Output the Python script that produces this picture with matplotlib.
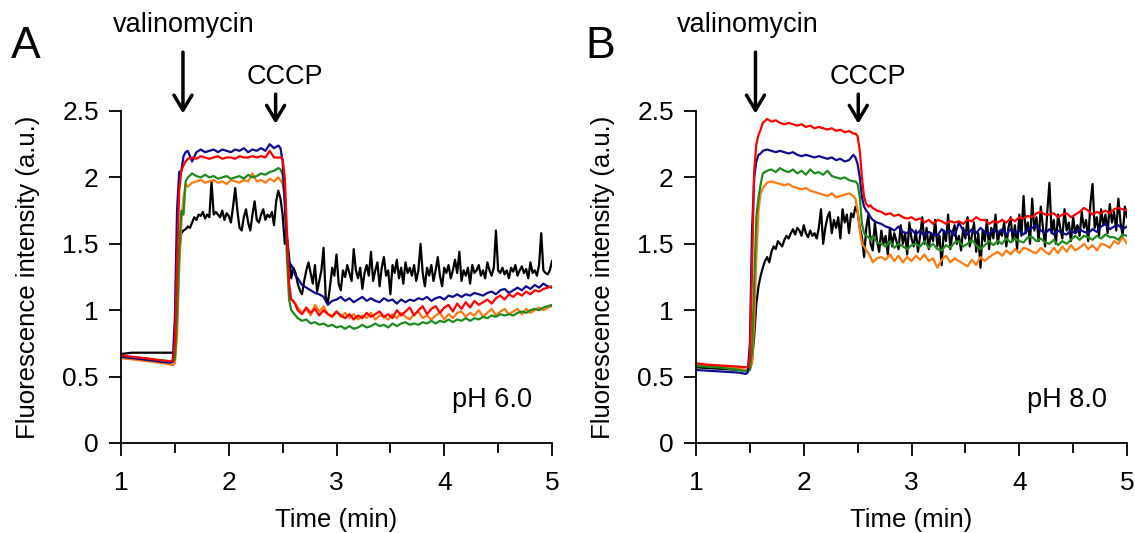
import numpy as np
import matplotlib
matplotlib.use("Agg")
import matplotlib.pyplot as plt

plt.rcParams['font.family'] = ['Liberation Sans', 'DejaVu Sans']

# ---------------- time grids (min) ----------------
t_col = np.round(np.concatenate([
    [1.00, 1.10, 1.20, 1.30, 1.40, 1.46],
    np.linspace(1.48, 1.62, 8),
    np.linspace(1.66, 2.42, 20),
    np.linspace(2.46, 2.62, 9),
    np.linspace(2.64, 5.00, 60)]), 2)
t_blk = np.round(np.concatenate([
    [1.00, 1.10, 1.20, 1.30, 1.40, 1.46],
    np.linspace(1.48, 5.00, 177)]), 2)

# ---------------- Panel A (pH 6.0) ----------------
a_blue = [0.65, 0.64, 0.63, 0.62, 0.61, 0.605,
          0.61, 0.95, 1.75, 2.04, 2.05, 2.16, 2.19, 2.20,
          2.12, 2.19, 2.21, 2.19, 2.20, 2.21, 2.19, 2.21, 2.20, 2.19,
          2.21, 2.20, 2.22, 2.19, 2.21, 2.20, 2.22, 2.20, 2.25, 2.22,
          2.24, 2.22, 2.12, 1.80, 1.50, 1.36, 1.34, 1.30, 1.26,
          1.24, 1.19, 1.17, 1.15, 1.13, 1.12, 1.10, 1.04, 1.07, 1.08,
          1.10, 1.07, 1.09, 1.06, 1.08, 1.10, 1.07, 1.09, 1.07, 1.06,
          1.09, 1.07, 1.08, 1.05, 1.08, 1.06, 1.08, 1.07, 1.09, 1.08,
          1.10, 1.07, 1.09, 1.10, 1.08, 1.11, 1.10, 1.12, 1.10, 1.12,
          1.11, 1.13, 1.12, 1.11, 1.13, 1.14, 1.12, 1.15, 1.16, 1.13,
          1.15, 1.17, 1.15, 1.18, 1.16, 1.19, 1.17, 1.20, 1.18, 1.17]
a_red = [0.66, 0.65, 0.64, 0.63, 0.62, 0.615,
         0.62, 0.75, 1.35, 1.90, 2.05, 2.09, 2.12, 2.14,
         2.15, 2.14, 2.16, 2.15, 2.14, 2.15, 2.16, 2.14, 2.15, 2.15,
         2.14, 2.16, 2.15, 2.15, 2.16, 2.15, 2.16, 2.15, 2.20, 2.15,
         2.15, 2.15, 2.14, 2.00, 1.60, 1.20, 1.08, 1.07, 1.04,
         1.00, 0.97, 1.02, 0.98, 1.01, 0.96, 1.00, 0.97, 0.95, 0.99,
         0.96, 0.94, 0.97, 0.93, 0.96, 0.94, 0.98, 0.95, 0.97, 0.99,
         0.95, 0.97, 0.94, 1.00, 0.96, 0.99, 1.02, 0.96, 1.00, 1.03,
         0.97, 1.01, 1.03, 0.98, 1.02, 1.04, 0.99, 1.05, 1.01, 1.06,
         1.02, 1.07, 1.04, 1.06, 1.08, 1.05, 1.09, 1.11, 1.08, 1.12,
         1.10, 1.13, 1.11, 1.14, 1.12, 1.15, 1.14, 1.16, 1.17, 1.18]
a_green = [0.65, 0.645, 0.64, 0.63, 0.62, 0.615,
           0.615, 0.63, 0.95, 1.45, 1.75, 1.72, 1.97, 2.00,
           2.03, 2.01, 2.00, 2.02, 2.00, 2.01, 1.99, 2.00, 2.01, 1.99,
           2.00, 2.01, 1.99, 2.02, 2.00, 2.01, 2.03, 2.02, 2.04, 2.05,
           2.07, 2.06, 2.02, 1.85, 1.40, 1.08, 1.00, 0.98, 0.96,
           0.94, 0.92, 0.93, 0.90, 0.91, 0.89, 0.90, 0.88, 0.89, 0.87,
           0.88, 0.86, 0.88, 0.86, 0.87, 0.89, 0.87, 0.88, 0.90, 0.88,
           0.89, 0.87, 0.90, 0.88, 0.90, 0.91, 0.89, 0.90, 0.89, 0.91,
           0.90, 0.92, 0.90, 0.92, 0.91, 0.93, 0.91, 0.93, 0.92, 0.94,
           0.92, 0.94, 0.93, 0.95, 0.94, 0.96, 0.95, 0.97, 0.96, 0.97,
           0.96, 0.98, 0.99, 0.98, 1.00, 1.01, 1.00, 1.02, 1.03, 1.04]
a_orange = [0.64, 0.63, 0.62, 0.61, 0.60, 0.59,
            0.585, 0.60, 0.80, 1.30, 1.65, 1.85, 1.95, 1.93,
            1.96, 1.97, 1.98, 1.96, 1.97, 1.98, 1.96, 1.97, 1.95, 1.98,
            1.97, 1.96, 1.98, 1.97, 2.03, 1.97, 1.98, 1.96, 1.99, 1.97,
            2.00, 1.98, 1.95, 1.85, 1.50, 1.15, 1.08, 1.06, 1.05,
            1.02, 0.98, 1.01, 0.96, 1.04, 0.99, 1.03, 0.97, 0.96, 0.99,
            0.95, 0.98, 0.94, 0.97, 0.93, 0.96, 0.94, 0.98, 0.93, 0.96,
            0.95, 0.93, 0.97, 0.94, 0.98, 0.95, 0.93, 0.97, 0.99, 0.94,
            0.96, 0.93, 0.96, 0.98, 0.93, 0.97, 0.94, 0.98, 0.99, 0.95,
            0.98, 0.96, 1.00, 0.95, 0.98, 1.01, 0.96, 0.99, 1.01, 0.97,
            0.99, 1.01, 0.97, 1.01, 0.98, 1.00, 1.02, 1.00, 1.02, 1.03]
a_black = [0.67, 0.68, 0.68, 0.68, 0.68, 0.68,
           0.68, 0.69, 0.95, 1.45, 1.58, 1.60, 1.61, 1.63, 1.62, 1.66,
           1.70, 1.68, 1.72, 1.71, 1.74, 1.69, 1.72, 1.70, 1.97, 1.72,
           1.74, 1.72, 1.70, 1.75, 1.68, 1.73, 1.71, 1.66, 1.78, 1.92,
           1.75, 1.62, 1.60, 1.70, 1.76, 1.66, 1.60, 1.72, 1.82, 1.68,
           1.66, 1.72, 1.76, 1.68, 1.72, 1.70, 1.74, 1.64, 1.82, 1.90,
           1.84, 1.72, 1.50, 1.56, 1.40, 1.24, 1.32, 1.28, 1.20, 1.15,
           1.12, 1.22, 1.30, 1.36, 1.28, 1.20, 1.34, 1.14, 1.22, 1.30,
           1.47, 1.10, 1.05, 1.18, 1.32, 1.26, 1.42, 1.20, 1.15, 1.30,
           1.25, 1.34, 1.28, 1.22, 1.46, 1.30, 1.24, 1.32, 1.16, 1.28,
           1.34, 1.26, 1.44, 1.22, 1.30, 1.36, 1.18, 1.32, 1.40, 1.26,
           1.30, 1.12, 1.34, 1.28, 1.38, 1.24, 1.32, 1.20, 1.36, 1.28,
           1.32, 1.26, 1.34, 1.22, 1.30, 1.50, 1.28, 1.18, 1.32, 1.26,
           1.34, 1.22, 1.30, 1.40, 1.26, 1.18, 1.32, 1.28, 1.34, 1.24,
           1.30, 1.38, 1.28, 1.44, 1.22, 1.30, 1.26, 1.32, 1.20, 1.34,
           1.28, 1.30, 1.34, 1.26, 1.30, 1.24, 1.36, 1.30, 1.26, 1.32,
           1.60, 1.30, 1.28, 1.32, 1.27, 1.30, 1.24, 1.32, 1.29, 1.34,
           1.26, 1.30, 1.33, 1.28, 1.31, 1.24, 1.36, 1.28, 1.30, 1.26,
           1.34, 1.58, 1.30, 1.28, 1.27, 1.30, 1.37]

# ---------------- Panel B (pH 8.0) ----------------
b_blue = [0.55, 0.545, 0.54, 0.535, 0.53, 0.52,
          0.53, 0.75, 1.60, 2.00, 2.12, 2.17, 2.18, 2.20,
          2.21, 2.20, 2.19, 2.20, 2.19, 2.18, 2.19, 2.17, 2.16, 2.17,
          2.16, 2.15, 2.16, 2.15, 2.14, 2.15, 2.13, 2.14, 2.12, 2.13,
          2.17, 2.15, 2.10, 2.00, 1.85, 1.78, 1.75, 1.73, 1.70,
          1.68, 1.66, 1.65, 1.63, 1.62, 1.60, 1.63, 1.59, 1.58, 1.61,
          1.57, 1.60, 1.56, 1.59, 1.57, 1.56, 1.61, 1.58, 1.60, 1.56,
          1.66, 1.60, 1.57, 1.61, 1.58, 1.62, 1.59, 1.57, 1.61, 1.58,
          1.61, 1.57, 1.61, 1.58, 1.60, 1.57, 1.61, 1.62, 1.64, 1.60,
          1.58, 1.61, 1.57, 1.60, 1.58, 1.57, 1.60, 1.58, 1.61, 1.59,
          1.58, 1.61, 1.59, 1.63, 1.65, 1.61, 1.63, 1.64, 1.61, 1.63]
b_red = [0.60, 0.59, 0.585, 0.58, 0.575, 0.57,
         0.57, 0.65, 1.30, 2.05, 2.25, 2.32, 2.36, 2.41,
         2.44, 2.42, 2.43, 2.41, 2.40, 2.41, 2.40, 2.39, 2.40, 2.38,
         2.39, 2.37, 2.38, 2.37, 2.36, 2.37, 2.35, 2.36, 2.34, 2.35,
         2.33, 2.33, 2.31, 2.20, 2.00, 1.85, 1.80, 1.78, 1.79,
         1.77, 1.75, 1.74, 1.72, 1.73, 1.71, 1.72, 1.70, 1.69, 1.70,
         1.68, 1.69, 1.66, 1.68, 1.65, 1.68, 1.67, 1.65, 1.67, 1.66,
         1.67, 1.65, 1.68, 1.67, 1.70, 1.68, 1.68, 1.65, 1.67, 1.66,
         1.68, 1.66, 1.69, 1.67, 1.70, 1.69, 1.71, 1.70, 1.73, 1.74,
         1.72, 1.72, 1.73, 1.70, 1.72, 1.73, 1.70, 1.72, 1.74, 1.77,
         1.75, 1.72, 1.74, 1.73, 1.75, 1.73, 1.76, 1.77, 1.76, 1.75]
b_green = [0.58, 0.575, 0.57, 0.56, 0.55, 0.54,
           0.54, 0.55, 0.70, 1.20, 1.70, 1.85, 1.95, 2.03,
           2.05, 2.06, 2.04, 2.07, 2.05, 2.04, 2.06, 2.03, 2.05, 2.02,
           2.06, 2.03, 2.04, 2.02, 2.05, 2.01, 2.00, 1.99, 2.00, 1.98,
           1.97, 1.97, 1.95, 1.85, 1.65, 1.58, 1.56, 1.55, 1.53,
           1.56, 1.51, 1.50, 1.48, 1.52, 1.47, 1.50, 1.48, 1.46, 1.49,
           1.50, 1.48, 1.52, 1.47, 1.50, 1.46, 1.45, 1.49, 1.47, 1.51,
           1.52, 1.48, 1.50, 1.53, 1.49, 1.46, 1.49, 1.52, 1.49, 1.52,
           1.50, 1.54, 1.51, 1.54, 1.52, 1.51, 1.55, 1.55, 1.52, 1.54,
           1.51, 1.50, 1.53, 1.49, 1.52, 1.50, 1.53, 1.56, 1.53, 1.56,
           1.55, 1.53, 1.56, 1.54, 1.57, 1.55, 1.55, 1.53, 1.57, 1.56]
b_orange = [0.59, 0.58, 0.575, 0.57, 0.56, 0.55,
            0.55, 0.55, 0.60, 0.90, 1.40, 1.75, 1.88, 1.92,
            1.96, 1.97, 1.96, 1.95, 1.94, 1.95, 1.93, 1.92, 1.91, 1.92,
            1.90, 1.89, 1.88, 1.87, 1.86, 1.88, 1.85, 1.86, 1.87, 1.88,
            1.86, 1.84, 1.75, 1.60, 1.50, 1.48, 1.45, 1.43, 1.40,
            1.36, 1.39, 1.40, 1.38, 1.42, 1.37, 1.41, 1.36, 1.40, 1.37,
            1.41, 1.38, 1.42, 1.37, 1.39, 1.32, 1.38, 1.41, 1.36, 1.39,
            1.37, 1.35, 1.33, 1.38, 1.34, 1.40, 1.37, 1.40, 1.42, 1.44,
            1.41, 1.45, 1.42, 1.46, 1.43, 1.47, 1.46, 1.44, 1.43, 1.47,
            1.44, 1.42, 1.47, 1.43, 1.48, 1.44, 1.49, 1.45, 1.47, 1.50,
            1.46, 1.49, 1.45, 1.50, 1.49, 1.47, 1.52, 1.50, 1.55, 1.50]
b_black = [0.57, 0.565, 0.56, 0.555, 0.55, 0.545,
           0.55, 0.56, 0.62, 0.80, 1.05, 1.18, 1.26, 1.32, 1.37, 1.40,
           1.36, 1.44, 1.48, 1.46, 1.52, 1.50, 1.48, 1.53, 1.56, 1.54,
           1.58, 1.61, 1.57, 1.62, 1.60, 1.56, 1.64, 1.58, 1.55, 1.60,
           1.56, 1.58, 1.54, 1.62, 1.76, 1.50, 1.62, 1.70, 1.74, 1.58,
           1.68, 1.62, 1.70, 1.54, 1.76, 1.66, 1.72, 1.58, 1.73, 1.70,
           1.78, 1.74, 1.62, 1.55, 1.40, 1.62, 1.72, 1.50, 1.45, 1.66,
           1.52, 1.44, 1.60, 1.50, 1.56, 1.42, 1.62, 1.48, 1.58, 1.52,
           1.46, 1.64, 1.50, 1.58, 1.42, 1.66, 1.54, 1.48, 1.60, 1.44,
           1.56, 1.70, 1.50, 1.62, 1.46, 1.58, 1.52, 1.68, 1.48, 1.56,
           1.34, 1.60, 1.52, 1.72, 1.46, 1.58, 1.64, 1.50, 1.56, 1.45,
           1.62, 1.54, 1.70, 1.48, 1.56, 1.66, 1.44, 1.58, 1.32, 1.60,
           1.52, 1.68, 1.46, 1.62, 1.54, 1.72, 1.50, 1.60, 1.56, 1.66,
           1.48, 1.62, 1.70, 1.52, 1.64, 1.46, 1.72, 1.56, 1.86, 1.58,
           1.66, 1.50, 1.84, 1.60, 1.70, 1.52, 1.78, 1.62, 1.48, 1.74,
           1.96, 1.58, 1.68, 1.50, 1.72, 1.62, 1.54, 1.76, 1.60, 1.66,
           1.52, 1.70, 1.58, 1.64, 1.56, 1.74, 1.62, 1.68, 1.52, 1.80,
           1.95, 1.62, 1.70, 1.56, 1.76, 1.64, 1.72, 1.58, 1.80, 1.66,
           1.74, 1.60, 1.84, 1.66, 1.56, 1.78, 1.70]

x_ticks = [1, 2, 3, 4, 5]
x_minor = [1.5, 2.5, 3.5, 4.5]
y_ticks = [0, 0.5, 1, 1.5, 2, 2.5]
y_ticklabels = ["0", "0.5", "1", "1.5", "2", "2.5"]

panels = [
    dict(letter="A", ph="pH 6.0",
         series=[(a_black, "black"), (a_orange, "orange"), (a_green, "green"),
                 (a_blue, "blue"), (a_red, "red")],
         val_arrow=1.575, val_text=1.587, cccp_arrow=2.435, cccp_text=2.518),
    dict(letter="B", ph="pH 8.0",
         series=[(b_black, "black"), (b_orange, "orange"), (b_green, "green"),
                 (b_blue, "blue"), (b_red, "red")],
         val_arrow=1.552, val_text=1.479, cccp_arrow=2.506, cccp_text=2.595),
]
colors = {"black": "#000000", "orange": "#ff7a12", "green": "#1e8a1e",
          "blue": "#0c0c8c", "red": "#ff0000"}

W, H = 1135, 533
fig = plt.figure(figsize=(W / 100, H / 100), dpi=100)
ax_lefts = [121, 696]
for p, left in zip(panels, ax_lefts):
    ax = fig.add_axes([left / W, (H - 443) / H, 431 / W, 332 / H])
    for vals, cname in p["series"]:
        tt = t_blk if cname == "black" else t_col
        ax.plot(tt, vals, color=colors[cname], lw=1.6)
    ax.set_xlim(1, 5)
    ax.set_ylim(0, 2.5)
    for s in ("top", "right"):
        ax.spines[s].set_visible(False)
    for s in ("left", "bottom"):
        ax.spines[s].set_linewidth(1.3)
    ax.set_xticks(x_ticks)
    ax.set_xticks(x_minor, minor=True)
    ax.set_yticks(y_ticks)
    ax.set_yticklabels(y_ticklabels)
    ax.tick_params(axis='both', which='major', direction='out', length=9, width=1.3,
                   labelsize=19)
    ax.tick_params(axis='x', which='minor', direction='out', length=7, width=1.3)
    ax.tick_params(axis='x', which='major', pad=11)
    ax.tick_params(axis='y', which='major', pad=7)
    ax.set_xlabel("Time (min)", fontsize=18.5)
    ax.xaxis.set_label_coords(0.5, -0.195)
    ax.set_ylabel("Fluorescence intensity (a.u.)", fontsize=18.5)
    ax.yaxis.set_label_coords(-0.188, 0.5)

    ax.text(p["val_text"], 3.093, "valinomycin", ha='center', va='baseline',
            fontsize=19.5, clip_on=False)
    ax.text(p["cccp_text"], 2.70, "CCCP", ha='center', va='baseline',
            fontsize=19.5, clip_on=False)
    ax.annotate('', xy=(p["val_arrow"], 2.481), xytext=(p["val_arrow"], 2.943),
                arrowprops=dict(arrowstyle='->,head_length=0.6,head_width=0.36',
                                lw=2.5, color='black', mutation_scale=18,
                                shrinkA=0, shrinkB=0),
                annotation_clip=False)
    ax.annotate('', xy=(p["cccp_arrow"], 2.404), xytext=(p["cccp_arrow"], 2.627),
                arrowprops=dict(arrowstyle='->,head_length=0.6,head_width=0.36',
                                lw=2.5, color='black', mutation_scale=18,
                                shrinkA=0, shrinkB=0),
                annotation_clip=False)
    ax.text(-0.025, 2.90, p["letter"], ha='left', va='baseline', fontsize=32,
            clip_on=False)
    ax.text(4.44, 0.27, p["ph"], ha='center', va='baseline', fontsize=19.5)

fig.savefig("out.png", dpi=100)
